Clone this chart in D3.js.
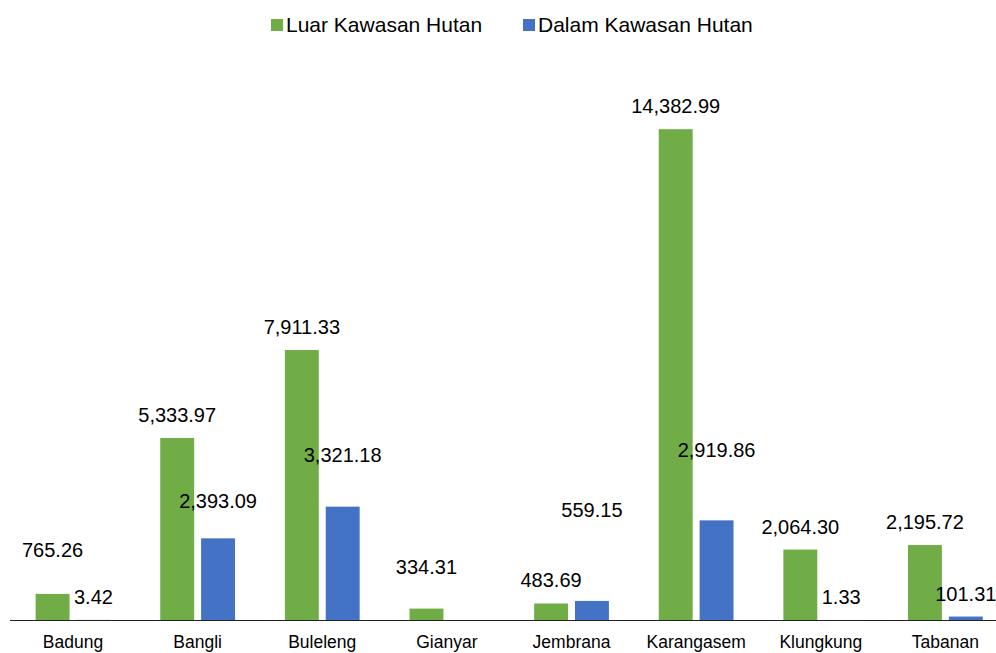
<!DOCTYPE html>
<html>
<head>
<meta charset="utf-8">
<script src="https://cdn.jsdelivr.net/npm/d3@7"></script>
<style>
  body { margin: 0; background: #fff; }
  text { font-family: "Liberation Sans", Arial, sans-serif; fill: #000; }
</style>
</head>
<body>
<svg id="chart" width="996" height="653"></svg>
<script>
// data
const categories = ['Badung', 'Bangli', 'Buleleng', 'Gianyar', 'Jembrana', 'Karangasem', 'Klungkung', 'Tabanan'];
const seriesNames = ['Luar Kawasan Hutan', 'Dalam Kawasan Hutan'];
const luarValues = [765.26, 5333.97, 7911.33, 334.31, 483.69, 14382.99, 2064.30, 2195.72];
const dalamValues = [3.42, 2393.09, 3321.18, null, 559.15, 2919.86, 1.33, 101.31];
const colors = ['#70AD47', '#4472C4'];

// labels that were dragged up in the original (px above bar top, default 23)
const labelLift = {
  'Luar Kawasan Hutan|Badung': 44,
  'Luar Kawasan Hutan|Gianyar': 42,
  'Dalam Kawasan Hutan|Bangli': 37,
  'Dalam Kawasan Hutan|Buleleng': 52,
  'Dalam Kawasan Hutan|Jembrana': 91,
  'Dalam Kawasan Hutan|Karangasem': 70
};

const width = 996, height = 653;
const margin = { top: 74, bottom: 33, left: 10.7 };
const plotWidth = 997;

const rows = [];
categories.forEach((c, i) => {
  rows.push({ cat: c, series: seriesNames[0], value: luarValues[i] });
  rows.push({ cat: c, series: seriesNames[1], value: dalamValues[i] });
});

const svg = d3.select('#chart');

const x0 = d3.scaleBand()
  .domain(categories)
  .range([margin.left, margin.left + plotWidth]);

const x1 = d3.scaleBand()
  .domain(seriesNames)
  .range([x0.bandwidth() * 0.2, x0.bandwidth() * 0.8])
  .paddingInner(0.17);

const y = d3.scaleLinear()
  .domain([0, 16000])
  .range([height - margin.bottom, margin.top]);

const color = d3.scaleOrdinal().domain(seriesNames).range(colors);

// bars
svg.append('g')
  .selectAll('rect')
  .data(rows.filter(d => d.value != null))
  .join('rect')
  .attr('x', d => x0(d.cat) + x1(d.series))
  .attr('y', d => y(d.value))
  .attr('width', x1.bandwidth())
  .attr('height', d => y(0) - y(d.value))
  .attr('fill', d => color(d.series));

// value labels
const fmt = d3.format(',.2f');
svg.append('g')
  .selectAll('text')
  .data(rows.filter(d => d.value != null))
  .join('text')
  .attr('x', d => x0(d.cat) + x1(d.series) + x1.bandwidth() / 2)
  .attr('y', d => y(d.value) - (labelLift[d.series + '|' + d.cat] || 23))
  .attr('text-anchor', 'middle')
  .attr('dominant-baseline', 'central')
  .style('font-size', '20px')
  .text(d => fmt(d.value));

// x axis
const xAxis = svg.append('g')
  .attr('transform', `translate(0, ${y(0)})`)
  .call(d3.axisBottom(x0).tickSize(0).tickPadding(16));
xAxis.select('.domain').attr('stroke', '#222').attr('d', `M10,0.5H996`);
xAxis.selectAll('text')
  .style('font-size', '17.5px')
  .style('font-family', '"Liberation Sans", Arial, sans-serif')
  .attr('fill', '#000');

// legend
const legend = svg.append('g');
const legendX = [271, 523];
seriesNames.forEach((s, i) => {
  const g = legend.append('g').attr('transform', `translate(${legendX[i]}, 19)`);
  g.append('rect').attr('width', 12).attr('height', 12).attr('fill', colors[i]);
  g.append('text')
    .attr('x', 15)
    .attr('y', 5)
    .attr('dominant-baseline', 'central')
    .style('font-size', '21px')
    .text(s);
});
</script>
</body>
</html>
